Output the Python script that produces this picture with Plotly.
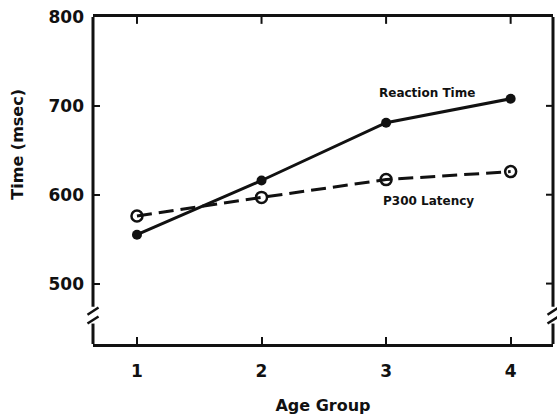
import plotly.graph_objects as go

# Mean values per age group
age_groups = [1, 2, 3, 4]
reaction_time = [555, 616, 681, 708]
p300_latency = [576, 597, 617, 626]
y_ticks = [500, 600, 700, 800]

FONT = "DejaVu Sans"
INK = "#111111"

fig = go.Figure()

fig.add_trace(go.Scatter(
    x=age_groups, y=p300_latency, mode="lines+markers", name="P300 Latency",
    line=dict(color=INK, width=3, dash="15px,7px"),
    marker=dict(symbol="circle-open", size=11, color=INK, line=dict(width=2.5, color=INK)),
))
fig.add_trace(go.Scatter(
    x=age_groups, y=reaction_time, mode="lines+markers", name="Reaction Time",
    line=dict(color=INK, width=3),
    marker=dict(symbol="circle", size=10, color=INK),
))

# Series labels
fig.add_annotation(x=3.33, y=714, xref="x", yref="y", text="<b>Reaction Time</b>",
                   showarrow=False, font=dict(family=FONT, size=12, color=INK))
fig.add_annotation(x=3.34, y=593, xref="x", yref="y", text="<b>P300 Latency</b>",
                   showarrow=False, font=dict(family=FONT, size=12, color=INK))

# Y-axis title
fig.add_annotation(x=-0.165, y=0.61, xref="paper", yref="paper", xanchor="center",
                   yanchor="middle", text="<b>Time (msec)</b>", textangle=-90,
                   showarrow=False, font=dict(family=FONT, size=16, color=INK))

ymin, ymax = 432, 800
xmin, xmax = 0.647, 4.34
brk_lo, brk_hi = 455, 474

# Vertical frame sides with an axis break
for xp in (0, 1):
    fig.add_shape(type="line", xref="paper", yref="y", x0=xp, x1=xp, y0=ymin, y1=brk_lo,
                  line=dict(color=INK, width=3))
    fig.add_shape(type="line", xref="paper", yref="y", x0=xp, x1=xp, y0=brk_hi, y1=ymax,
                  line=dict(color=INK, width=3))
    for yc in (brk_lo + 4, brk_hi - 5):
        fig.add_shape(type="line", xref="paper", yref="y",
                      x0=xp - 0.012, x1=xp + 0.012, y0=yc - 4, y1=yc + 4,
                      line=dict(color=INK, width=2.5))

# Inward tick marks on the top and right sides of the frame
tick_len_x = 7 / 460   # fraction of plot width
tick_len_y = 7 / 334   # fraction of plot height
for a in age_groups:
    fig.add_shape(type="line", xref="x", yref="paper", x0=a, x1=a, y0=1, y1=1 - tick_len_y,
                  line=dict(color=INK, width=2))
for v in y_ticks[:-1]:
    fig.add_shape(type="line", xref="paper", yref="y", x0=1, x1=1 - tick_len_x, y0=v, y1=v,
                  line=dict(color=INK, width=2))

tick_style = dict(ticks="inside", ticklen=7, tickwidth=2, tickcolor=INK,
                  showgrid=False, zeroline=False)

fig.update_layout(
    xaxis=dict(
        range=[xmin, xmax], tickvals=age_groups,
        ticktext=[f"<b>{a}</b>" for a in age_groups],
        showline=True, linecolor=INK, linewidth=3, mirror=True,
        tickfont=dict(family=FONT, size=17, color=INK), ticklabelstandoff=10,
        title=dict(text="<b>Age Group</b>", font=dict(family=FONT, size=16, color=INK),
                   standoff=20),
        **tick_style,
    ),
    yaxis=dict(
        range=[ymin, ymax], tickvals=y_ticks,
        ticktext=[f"<b>{v}</b>" for v in y_ticks],
        showline=False,
        tickfont=dict(family=FONT, size=17, color=INK), ticklabelstandoff=8,
        **tick_style,
    ),
    width=557, height=417,
    margin=dict(l=93, r=4, t=17, b=66),
    plot_bgcolor="white", paper_bgcolor="white",
    showlegend=False,
    font=dict(family=FONT, color=INK),
)

fig.write_html("out.html")
